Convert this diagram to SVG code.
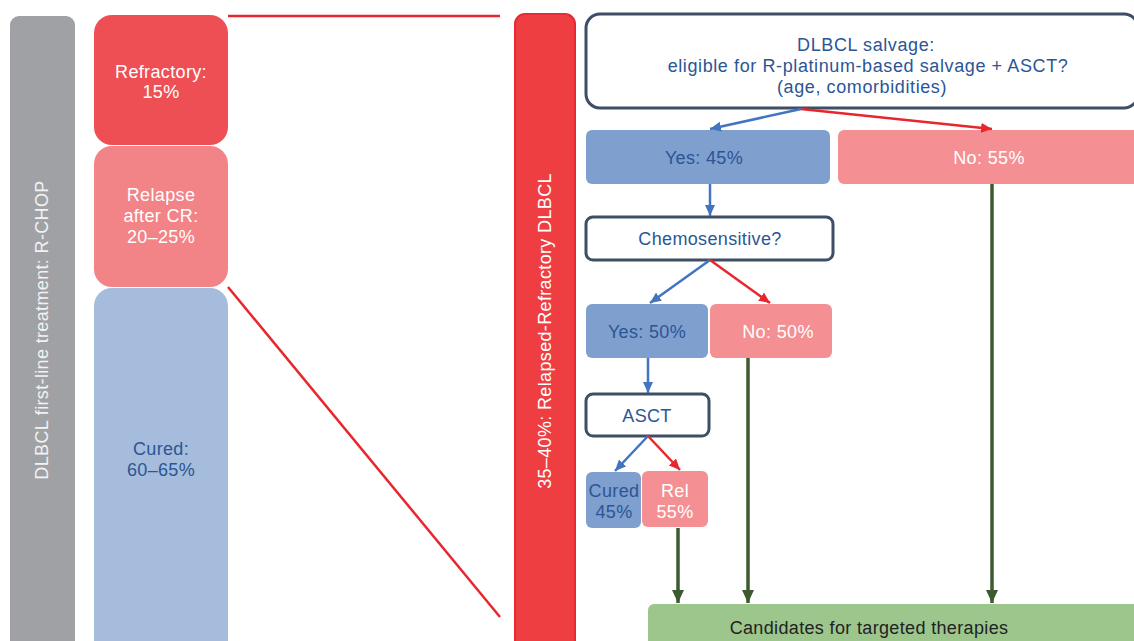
<svg xmlns="http://www.w3.org/2000/svg" width="1134" height="641" viewBox="0 0 1134 641">
<defs>
<style>
text{font-family:"Liberation Sans",Arial,sans-serif;font-size:18px;letter-spacing:0.35px;text-anchor:middle}
.w{fill:#ffffff}
.b{fill:#2b5694}
.k{fill:#222222}
.wide{letter-spacing:0.6px}
.qbox{fill:#ffffff;stroke:#3e4e66;stroke-width:3}
.yes{fill:#7f9fcf}
.no{fill:#f49093}
.bl{stroke:#4374c1;stroke-width:2.5;fill:none}
.rl{stroke:#e8262d;stroke-width:2.5;fill:none}
.gl{stroke:#3d5a31;stroke-width:3.5;fill:none}
</style>
<marker id="ab" markerUnits="userSpaceOnUse" markerWidth="12" markerHeight="10" refX="11" refY="5" orient="auto"><path d="M0,0 L11,5 L0,10 Z" fill="#4374c1"/></marker>
<marker id="ar" markerUnits="userSpaceOnUse" markerWidth="12" markerHeight="10" refX="11" refY="5" orient="auto"><path d="M0,0 L11,5 L0,10 Z" fill="#e8262d"/></marker>
<marker id="ag" markerUnits="userSpaceOnUse" markerWidth="14" markerHeight="12" refX="13" refY="6" orient="auto"><path d="M0,0 L13,6 L0,12 Z" fill="#3d5a31"/></marker>
</defs>
<rect width="1134" height="641" fill="#ffffff"/>

<g id="firstline">
<rect x="10" y="16" width="65" height="640" rx="9" fill="#a0a1a5"/>
<text class="w" transform="translate(48,330) rotate(-90)" style="fill:#f2f2f2">DLBCL first-line treatment: R-CHOP</text>
</g>

<g id="refractory">
<rect x="94" y="15" width="134" height="130" rx="18" fill="#ee4f55"/>
<text class="w" x="161" y="78">Refractory:</text>
<text class="w" x="161" y="98">15%</text>
</g>

<g id="relapse">
<rect x="94" y="146" width="134" height="141" rx="18" fill="#f28387"/>
<text class="w" x="161" y="201">Relapse</text>
<text class="w" x="161" y="222">after CR:</text>
<text class="w" x="161" y="243">20–25%</text>
</g>

<g id="cured">
<rect x="94" y="288" width="134" height="380" rx="18" fill="#a6bcdc"/>
<text class="b" x="161" y="455">Cured:</text>
<text class="b" x="161" y="476">60–65%</text>
</g>

<g id="rrbar">
<rect x="515" y="14" width="60" height="650" rx="10" fill="#ef3e42" stroke="#e62a2f" stroke-width="2"/>
<text class="w" transform="translate(551,331) rotate(-90)">35–40%: Relapsed-Refractory DLBCL</text>
</g>

<g id="salvage">
<rect class="qbox" x="586" y="14" width="552" height="94" rx="14"/>
<text class="b wide" x="866" y="51">DLBCL salvage:</text>
<text class="b wide" x="868" y="72">eligible for R-platinum-based salvage + ASCT?</text>
<text class="b wide" x="862" y="93">(age, comorbidities)</text>
</g>

<g id="yes45">
<rect class="yes" x="586" y="130" width="244" height="54" rx="6"/>
<text class="b" x="704" y="164">Yes: 45%</text>
</g>

<g id="no55">
<rect class="no" x="838" y="130" width="310" height="54" rx="6"/>
<text class="w" x="989" y="164">No: 55%</text>
</g>

<g id="chemo">
<rect class="qbox" x="586" y="217" width="247" height="43" rx="7"/>
<text class="b" x="710" y="245">Chemosensitive?</text>
</g>

<g id="yes50">
<rect class="yes" x="586" y="304" width="122" height="54" rx="6"/>
<text class="b" x="647" y="338">Yes: 50%</text>
</g>

<g id="no50">
<rect class="no" x="710" y="304" width="122" height="54" rx="6"/>
<text class="w" x="778" y="338">No: 50%</text>
</g>

<g id="asct">
<rect class="qbox" x="586" y="394" width="123" height="42" rx="7"/>
<text class="b" x="647" y="422">ASCT</text>
</g>

<g id="cured45">
<rect class="yes" x="586" y="472" width="55" height="56" rx="6"/>
<text class="b" x="614" y="497">Cured</text>
<text class="b" x="614" y="518">45%</text>
</g>

<g id="rel55">
<rect class="no" x="642" y="471" width="66" height="56" rx="6"/>
<text class="w" x="675" y="497">Rel</text>
<text class="w" x="675" y="518">55%</text>
</g>

<g id="candidates">
<rect x="648" y="604" width="500" height="60" rx="6" fill="#9cc68c"/>
<text class="k" x="869" y="634">Candidates for targeted therapies</text>
</g>

<g id="connectors">
<line x1="228" y1="16" x2="500" y2="16" stroke="#e8262d" stroke-width="2.5"/>
<line x1="228" y1="287" x2="500" y2="617" stroke="#e8262d" stroke-width="2.5"/>
<line class="bl" x1="801" y1="109" x2="710" y2="129" marker-end="url(#ab)"/>
<line class="rl" x1="801" y1="109" x2="992" y2="129" marker-end="url(#ar)"/>
<line class="bl" x1="710" y1="184" x2="710" y2="216" marker-end="url(#ab)"/>
<line class="bl" x1="710" y1="260" x2="650" y2="303" marker-end="url(#ab)"/>
<line class="rl" x1="710" y1="260" x2="770" y2="303" marker-end="url(#ar)"/>
<line class="bl" x1="648" y1="358" x2="648" y2="393" marker-end="url(#ab)"/>
<line class="bl" x1="648" y1="436" x2="615" y2="471" marker-end="url(#ab)"/>
<line class="rl" x1="648" y1="436" x2="680" y2="470" marker-end="url(#ar)"/>
<line class="gl" x1="678" y1="528" x2="678" y2="603" marker-end="url(#ag)"/>
<line class="gl" x1="748" y1="358" x2="748" y2="603" marker-end="url(#ag)"/>
<line class="gl" x1="992" y1="184" x2="992" y2="603" marker-end="url(#ag)"/>
</g>
</svg>
